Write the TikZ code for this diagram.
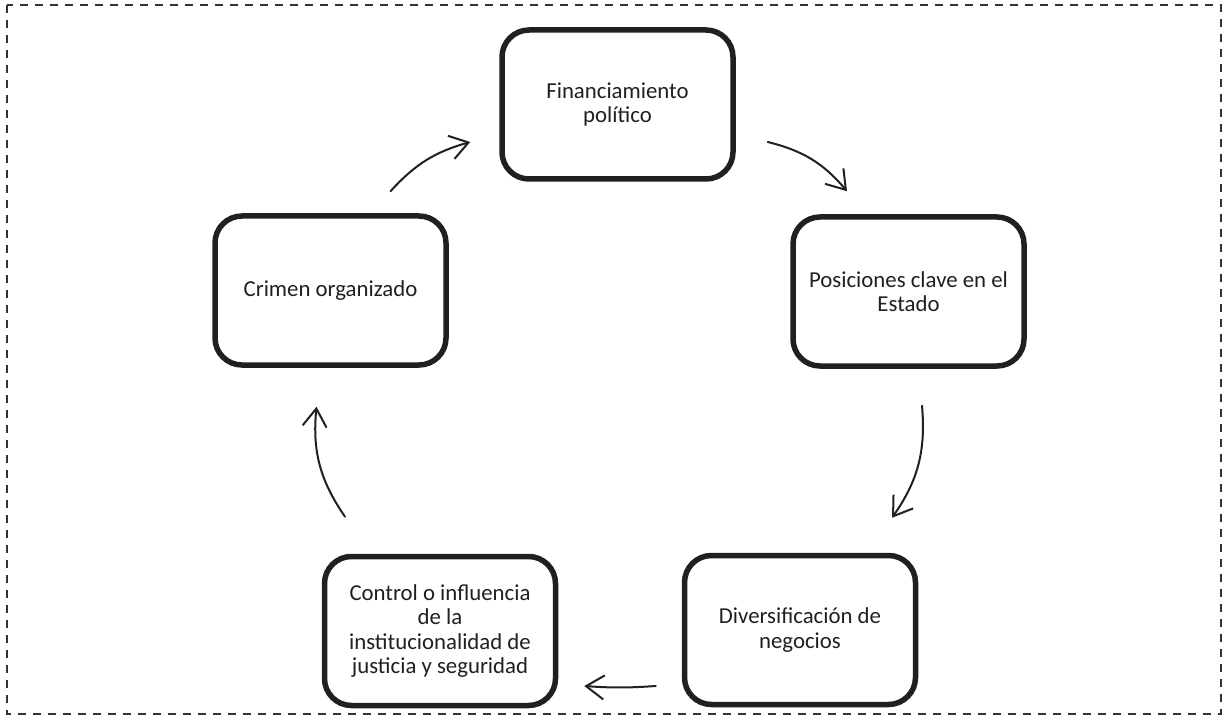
\documentclass[tikz,border=0pt]{standalone}
\usepackage{fontspec}
\setmainfont{Carlito}
\usetikzlibrary{arrows.meta,positioning}

\definecolor{ink}{HTML}{231F20}
\definecolor{frame}{HTML}{333333}

\tikzset{
  stage/.style={draw=ink, line width=5.5pt, rounded corners=27pt, fill=white,
    minimum width=231pt, minimum height=149pt, inner sep=0pt,
    text=ink, align=center,
    font=\fontsize{22.8}{24.5}\selectfont},
  flow/.style={draw=ink, line width=2pt, line cap=round,
    -{Straight Barb[length=18pt,width=24pt,line width=2pt]}},
  outline/.style={draw=frame, line width=2.2pt, dash pattern=on 8pt off 7pt}
}

\begin{document}
\begin{tikzpicture}[x=1pt,y=1pt]
  \useasboundingbox (0,0) rectangle (1225,-719);

  % dashed frame round the cycle
  \draw[outline] (7,-5) rectangle (1221,-714);

  % the five stages of the cycle
  \node[stage] (fin)  at (617.5,-104.5) {Financiamiento\\político};
  \node[stage] (pos)  at (908.5,-291.5) {Posiciones clave en el\\Estado};
  \node[stage] (div)  at (800,-630)     {Diversificación de\\negocios};
  \node[stage] (ctl)  at (440,-631)     {Control o influencia\\de la\\institucionalidad de\\justicia y seguridad};
  \node[stage] (crim) at (330.5,-290.5) {Crimen organizado};

  % curved arrows running clockwise
  \draw[flow] ([shift={(60,22)}]crim.north) to[bend left=16] ([shift={(-29,-37.5)}]fin.west);
  \draw[flow] ([shift={(32,-37.5)}]fin.east) to[bend left=18] ([shift={(-61.5,23)}]pos.north);
  \draw[flow] ([shift={(13.5,-37)}]pos.south) to[bend left=20] ([shift={(92,35)}]div.north);
  \draw[flow] ([shift={(-26,-56)}]div.west) to[bend left=4] ([shift={(26,-55)}]ctl.east);
  \draw[flow] ([shift={(-95,37)}]ctl.north) to[bend left=20] ([shift={(-14,-39)}]crim.south);
\end{tikzpicture}
\end{document}
